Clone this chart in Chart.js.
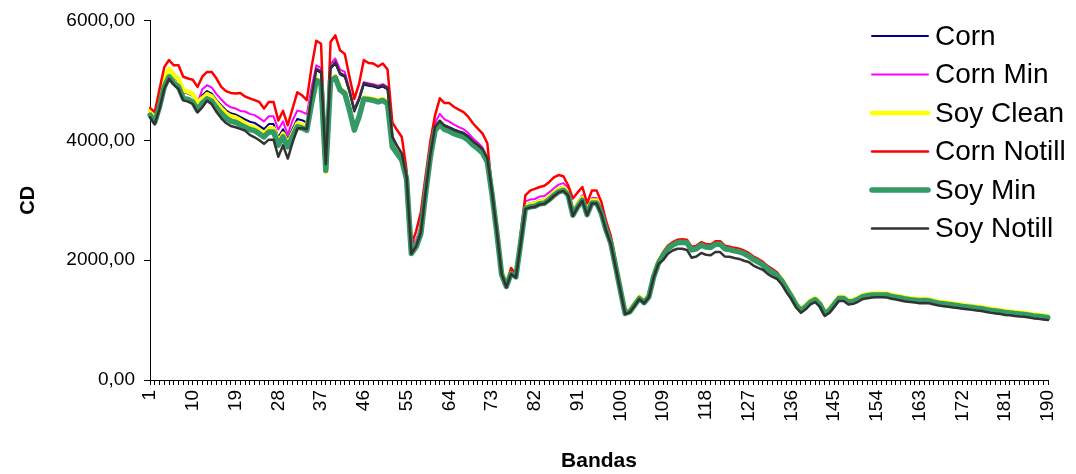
<!DOCTYPE html>
<html>
<head>
<meta charset="utf-8">
<script src="https://cdn.jsdelivr.net/npm/chart.js@4.4.1/dist/chart.umd.min.js"></script>
<style>
  html, body { margin: 0; padding: 0; background: #ffffff; }
  canvas { display: block; }
</style>
</head>
<body>
<canvas id="spectra" width="1076" height="474"></canvas>
<script>
// Spectral bands 1..190
const firstBand = 1;
const lastBand = 190;
const bands = [];
for (let b = firstBand; b <= lastBand; b++) bands.push(String(b));

// Labels printed under the band axis
const bandTickLabels = ['1', '10', '19', '28', '37', '46', '55', '64', '73', '82', '91',
  '100', '109', '118', '127', '136', '145', '154', '163', '172', '181', '190'];

// Value axis ticks
const cdTicks = [0, 2000, 4000, 6000];

const seriesNames = ['Corn', 'Corn Min', 'Soy Clean', 'Corn Notill', 'Soy Min', 'Soy Notill'];

// CD per band, one array per class
const corn = [
  4520, 4400, 4660, 4990, 5160, 5060, 4990, 4800, 4780, 4740,
  4600, 4750, 4820, 4780, 4670, 4580, 4500, 4450, 4430, 4390,
  4350, 4310, 4290, 4240, 4185, 4270, 4270, 4050, 4185, 4020,
  4190, 4355, 4335, 4295, 4740, 5170, 5125, 3580, 5190, 5285,
  5100, 5060, 4800, 4480, 4670, 4930, 4910, 4895, 4870, 4895,
  4850, 4036, 3840, 3730, 3410, 2180, 2290, 2510, 3180, 3790,
  4240, 4330, 4250, 4220, 4180, 4150, 4125, 4070, 3990, 3930,
  3860, 3710, 3160, 2530, 1830, 1570, 1790, 1730, 2290, 2920,
  2950, 2960, 3000, 3010, 3070, 3140, 3200, 3225, 3150, 2810,
  2950, 3060, 2820, 3015, 3015, 2840, 2560, 2340, 1950, 1560,
  1115, 1145, 1255, 1365, 1295, 1395, 1725, 1950, 2085, 2195,
  2255, 2295, 2305, 2295, 2175, 2195, 2255, 2225, 2215, 2270,
  2270, 2195, 2180, 2160, 2145, 2115, 2075, 2015, 1975, 1925,
  1855, 1805, 1750, 1655, 1525, 1395, 1255, 1165, 1225, 1305,
  1345, 1265, 1115, 1165, 1265, 1365, 1365, 1305, 1315, 1350,
  1395, 1410, 1422, 1425, 1425, 1423, 1400, 1387, 1373, 1355,
  1345, 1337, 1327, 1330, 1325, 1305, 1287, 1277, 1267, 1255,
  1245, 1233, 1225, 1215, 1203, 1195, 1180, 1165, 1155, 1145,
  1130, 1125, 1113, 1105, 1100, 1087, 1073, 1065, 1055, 1045
];

const cornMin = [
  4540, 4420, 4680, 5010, 5180, 5080, 5010, 4820, 4800, 4760,
  4620, 4850, 4920, 4880, 4770, 4680, 4600, 4550, 4530, 4490,
  4480, 4440, 4420, 4370, 4315, 4400, 4400, 4180, 4315, 4090,
  4330, 4495, 4475, 4435, 4880, 5250, 5205, 3660, 5270, 5365,
  5180, 5140, 4840, 4520, 4710, 4970, 4950, 4935, 4910, 4935,
  4890, 4076, 3860, 3750, 3430, 2230, 2340, 2560, 3230, 3840,
  4290, 4440, 4350, 4310, 4260, 4220, 4185, 4120, 4030, 3960,
  3880, 3720, 3140, 2490, 1780, 1580, 1800, 1740, 2300, 2980,
  3010, 3020, 3060, 3070, 3130, 3200, 3260, 3285, 3210, 2830,
  2970, 3080, 2840, 3035, 3035, 2860, 2540, 2320, 1930, 1540,
  1120, 1150, 1260, 1370, 1300, 1400, 1730, 1955, 2090, 2200,
  2260, 2300, 2310, 2300, 2180, 2200, 2260, 2230, 2220, 2275,
  2275, 2200, 2185, 2165, 2150, 2120, 2080, 2020, 1980, 1930,
  1860, 1810, 1755, 1660, 1530, 1400, 1260, 1170, 1230, 1310,
  1350, 1270, 1120, 1170, 1270, 1370, 1370, 1310, 1320, 1355,
  1400, 1415, 1427, 1430, 1430, 1428, 1405, 1392, 1378, 1360,
  1350, 1342, 1332, 1335, 1330, 1310, 1292, 1282, 1272, 1260,
  1250, 1238, 1230, 1220, 1208, 1200, 1185, 1170, 1160, 1150,
  1135, 1130, 1118, 1110, 1105, 1092, 1078, 1070, 1060, 1050
];

const soyClean = [
  4500, 4380, 4690, 5020, 5190, 5090, 5020, 4830, 4810, 4770,
  4630, 4700, 4770, 4730, 4620, 4530, 4450, 4400, 4380, 4340,
  4275, 4235, 4215, 4165, 4110, 4195, 4195, 3975, 4110, 3945,
  4115, 4280, 4260, 4220, 4665, 5025, 4970, 3470, 5015, 5070,
  4865, 4805, 4525, 4195, 4415, 4715, 4705, 4690, 4665, 4690,
  4635, 3915, 3805, 3695, 3375, 2140, 2250, 2470, 3140, 3750,
  4200, 4290, 4210, 4180, 4140, 4110, 4085, 4030, 3950, 3890,
  3820, 3670, 3120, 2490, 1790, 1600, 1820, 1760, 2320, 2900,
  2930, 2940, 2980, 2990, 3050, 3120, 3180, 3205, 3130, 2790,
  2930, 3040, 2800, 2995, 2995, 2820, 2540, 2320, 1930, 1540,
  1135, 1165, 1275, 1385, 1315, 1415, 1745, 1970, 2105, 2215,
  2275, 2315, 2325, 2315, 2195, 2215, 2275, 2245, 2235, 2290,
  2290, 2215, 2200, 2180, 2165, 2135, 2095, 2035, 1995, 1945,
  1875, 1825, 1770, 1675, 1545, 1415, 1275, 1185, 1245, 1325,
  1365, 1285, 1135, 1185, 1285, 1385, 1385, 1325, 1335, 1370,
  1415, 1430, 1442, 1445, 1445, 1443, 1420, 1407, 1393, 1375,
  1365, 1357, 1347, 1350, 1345, 1325, 1307, 1297, 1287, 1275,
  1265, 1253, 1245, 1235, 1223, 1215, 1200, 1185, 1175, 1165,
  1150, 1145, 1133, 1125, 1120, 1107, 1093, 1085, 1075, 1065
];

const cornNotill = [
  4540, 4470, 4850, 5220, 5340, 5250, 5250, 5060, 5030, 5010,
  4890, 5060, 5140, 5140, 5030, 4890, 4820, 4790, 4780, 4790,
  4730, 4700, 4670, 4640, 4530, 4640, 4640, 4330, 4490, 4250,
  4530, 4800, 4750, 4670, 5220, 5660, 5610, 3560, 5640, 5750,
  5500, 5440, 5050, 4690, 4940, 5340, 5290, 5280, 5230, 5280,
  5180, 4300, 4170, 4055, 3500, 2250, 2480, 2800, 3400, 3980,
  4420, 4700, 4620, 4620, 4555, 4510, 4470, 4390, 4280, 4195,
  4110, 3950, 3150, 2480, 1780, 1580, 1870, 1760, 2420, 3080,
  3160, 3190, 3220, 3240, 3300, 3380, 3420, 3400, 3250, 3030,
  3130, 3220, 2950, 3160, 3160, 2970, 2650, 2400, 1980, 1560,
  1130, 1160, 1270, 1380, 1310, 1410, 1750, 1985, 2130, 2240,
  2300, 2340, 2350, 2340, 2220, 2240, 2300, 2270, 2260, 2315,
  2315, 2240, 2225, 2205, 2190, 2160, 2120, 2060, 2020, 1970,
  1900, 1850, 1795, 1655, 1525, 1395, 1255, 1165, 1225, 1305,
  1345, 1265, 1115, 1165, 1265, 1365, 1365, 1305, 1315, 1350,
  1395, 1410, 1422, 1425, 1425, 1423, 1400, 1387, 1373, 1355,
  1345, 1337, 1327, 1330, 1325, 1305, 1287, 1277, 1267, 1255,
  1245, 1233, 1225, 1215, 1203, 1195, 1180, 1165, 1155, 1145,
  1130, 1125, 1113, 1105, 1100, 1087, 1073, 1065, 1055, 1045
];

const soyMin = [
  4420, 4300, 4560, 4890, 5060, 4960, 4890, 4700, 4680, 4640,
  4500, 4620, 4690, 4650, 4540, 4450, 4370, 4320, 4300, 4260,
  4220, 4180, 4160, 4110, 4055, 4140, 4140, 3920, 4055, 3890,
  4060, 4225, 4205, 4165, 4610, 5000, 4945, 3500, 4990, 5045,
  4840, 4780, 4500, 4170, 4390, 4690, 4680, 4665, 4640, 4665,
  4610, 3890, 3780, 3670, 3350, 2110, 2220, 2440, 3110, 3720,
  4170, 4260, 4180, 4150, 4110, 4080, 4055, 4000, 3920, 3860,
  3790, 3640, 3090, 2460, 1760, 1560, 1780, 1720, 2280, 2860,
  2890, 2900, 2940, 2950, 3010, 3080, 3140, 3165, 3090, 2750,
  2890, 3000, 2760, 2955, 2955, 2780, 2500, 2280, 1890, 1500,
  1110, 1140, 1250, 1360, 1290, 1390, 1720, 1945, 2080, 2190,
  2250, 2290, 2300, 2290, 2170, 2190, 2250, 2220, 2210, 2265,
  2265, 2190, 2175, 2155, 2140, 2110, 2070, 2010, 1970, 1920,
  1850, 1800, 1745, 1650, 1520, 1390, 1250, 1160, 1220, 1300,
  1340, 1260, 1110, 1160, 1260, 1360, 1360, 1300, 1310, 1345,
  1390, 1405, 1417, 1420, 1420, 1418, 1395, 1382, 1368, 1350,
  1340, 1332, 1322, 1325, 1320, 1300, 1282, 1272, 1262, 1250,
  1240, 1228, 1220, 1210, 1198, 1190, 1175, 1160, 1150, 1140,
  1125, 1120, 1108, 1100, 1095, 1082, 1068, 1060, 1050, 1040
];

const soyNotill = [
  4385, 4265, 4525, 4855, 5025, 4925, 4855, 4665, 4645, 4605,
  4465, 4550, 4660, 4600, 4470, 4367, 4287, 4237, 4217, 4190,
  4160, 4090, 4050, 4000, 3940, 4010, 4010, 3725, 3915, 3695,
  3960, 4195, 4205, 4185, 4730, 5190, 5145, 3600, 5210, 5305,
  5120, 5080, 4820, 4500, 4690, 4950, 4930, 4915, 4890, 4915,
  4870, 4056, 3910, 3780, 3390, 2110, 2230, 2460, 3140, 3760,
  4230, 4320, 4240, 4210, 4170, 4140, 4115, 4060, 3980, 3920,
  3850, 3700, 3120, 2470, 1770, 1550, 1770, 1710, 2270, 2850,
  2880, 2890, 2930, 2940, 3000, 3070, 3130, 3155, 3080, 2740,
  2880, 2990, 2750, 2945, 2945, 2770, 2490, 2270, 1880, 1490,
  1100, 1130, 1240, 1350, 1280, 1380, 1710, 1935, 2000, 2105,
  2160, 2190, 2190, 2170, 2040, 2060, 2120, 2090, 2080, 2135,
  2135, 2060, 2055, 2035, 2020, 1990, 1970, 1910, 1870, 1840,
  1770, 1720, 1685, 1590, 1460, 1350, 1210, 1120, 1180, 1260,
  1300, 1220, 1070, 1120, 1220, 1320, 1320, 1260, 1270, 1305,
  1350, 1365, 1377, 1380, 1380, 1378, 1355, 1342, 1328, 1310,
  1300, 1292, 1282, 1285, 1280, 1260, 1242, 1232, 1222, 1210,
  1200, 1188, 1180, 1170, 1158, 1150, 1135, 1120, 1110, 1100,
  1085, 1080, 1068, 1060, 1055, 1042, 1028, 1020, 1010, 1000
];

const seriesValues = [corn, cornMin, soyClean, cornNotill, soyMin, soyNotill];

// Line styling per class
const lineColors = ['#000080', '#FF00FF', '#FFFF00', '#FF0000', '#339966', '#333333'];
const lineWidths = [2, 2, 4.5, 2.5, 5.5, 2.5];

const FONT = "'Liberation Sans', Arial, sans-serif";

// Legend drawn over the upper right corner of the plot
const floatingLegend = {
  id: 'floatingLegend',
  afterDraw(chart, args, opts) {
    const ctx = chart.ctx;
    ctx.save();
    ctx.font = opts.fontSize + 'px ' + FONT;
    ctx.textBaseline = 'middle';
    ctx.textAlign = 'left';
    chart.data.datasets.forEach((ds, i) => {
      const y = opts.top + i * opts.rowGap;
      ctx.beginPath();
      ctx.strokeStyle = ds.borderColor;
      ctx.lineWidth = ds.borderWidth;
      ctx.lineCap = 'round';
      ctx.moveTo(opts.left, y);
      ctx.lineTo(opts.left + opts.lineLength, y);
      ctx.stroke();
      ctx.fillStyle = '#000000';
      ctx.fillText(ds.label, opts.left + opts.lineLength + opts.textGap, y + 1);
    });
    ctx.restore();
  }
};

const datasets = seriesNames.map((name, i) => ({
  label: name,
  data: seriesValues[i],
  borderColor: lineColors[i],
  backgroundColor: lineColors[i],
  borderWidth: lineWidths[i],
  pointRadius: 0,
  pointHoverRadius: 0,
  tension: 0,
  fill: false,
  borderJoinStyle: 'round',
  borderCapStyle: 'round',
  order: seriesNames.length - i
}));

new Chart(document.getElementById('spectra'), {
  type: 'line',
  data: { labels: bands, datasets },
  plugins: [floatingLegend],
  options: {
    responsive: false,
    animation: false,
    devicePixelRatio: 1,
    layout: { padding: { top: 20, right: 28, bottom: 0, left: 0 } },
    plugins: {
      legend: { display: false },
      tooltip: { enabled: false },
      floatingLegend: { left: 872, top: 36, rowGap: 38.5, lineLength: 56, textGap: 7, fontSize: 28 }
    },
    scales: {
      x: {
        type: 'category',
        offset: false,
        afterFit(scale) { scale.height = 94; },
        border: { display: true, color: '#000000', width: 1 },
        grid: {
          drawOnChartArea: false,
          drawTicks: true,
          tickLength: 5,
          color: '#000000',
          lineWidth: 1
        },
        ticks: {
          autoSkip: false,
          maxRotation: 90,
          minRotation: 90,
          padding: 5,
          color: '#000000',
          font: { family: FONT, size: 19 },
          callback(value, index) {
            const lab = bands[index];
            return bandTickLabels.includes(lab) ? lab : '';
          }
        },
        title: {
          display: true,
          text: 'Bandas',
          color: '#000000',
          font: { family: FONT, size: 21, weight: 'bold' },
          padding: { top: 0, bottom: 0 }
        }
      },
      y: {
        min: cdTicks[0],
        max: cdTicks[cdTicks.length - 1],
        afterFit(scale) { scale.width = 150; },
        afterBuildTicks(scale) { scale.ticks = cdTicks.map(v => ({ value: v })); },
        border: { display: true, color: '#000000', width: 1 },
        grid: {
          drawOnChartArea: false,
          drawTicks: true,
          tickLength: 6,
          color: '#000000',
          lineWidth: 1
        },
        ticks: {
          padding: 9,
          color: '#000000',
          font: { family: FONT, size: 19 },
          callback(value) { return value.toFixed(2).replace('.', ','); }
        },
        title: {
          display: true,
          text: 'CD',
          color: '#000000',
          font: { family: FONT, size: 20, weight: 'bold' },
          padding: { top: 16, bottom: 0 }
        }
      }
    }
  }
});
</script>
</body>
</html>
